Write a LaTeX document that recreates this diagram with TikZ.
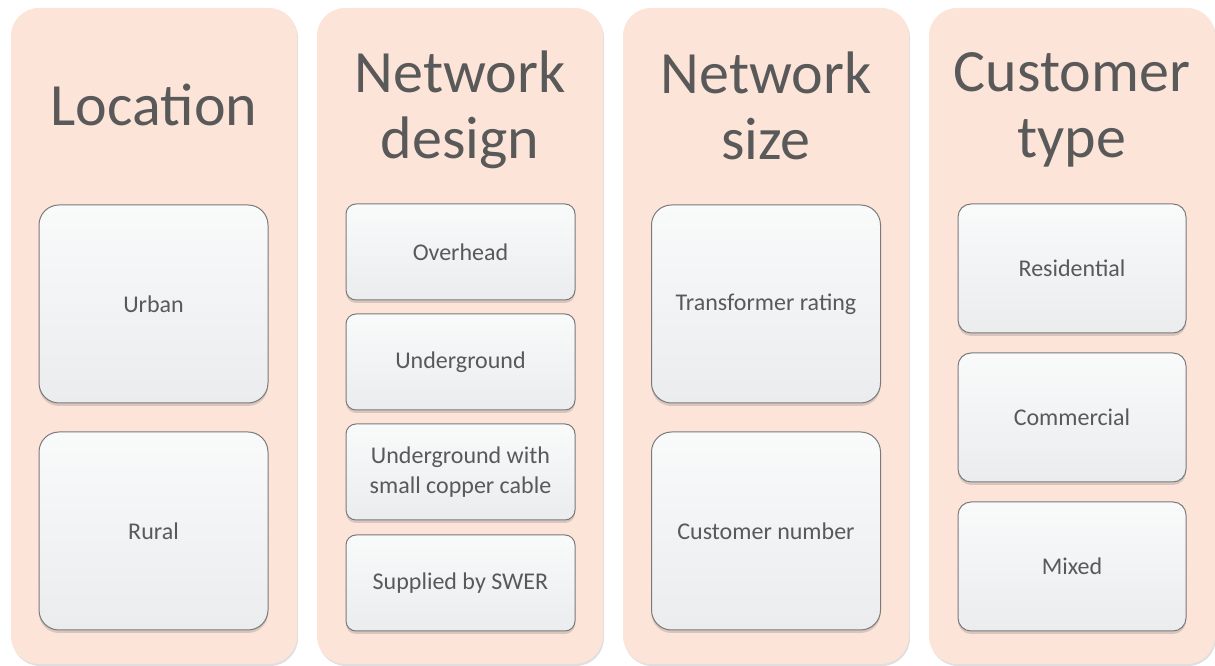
\documentclass[tikz,border=0pt]{standalone}
\usepackage{fontspec}
\setmainfont{Carlito}
\usetikzlibrary{shadows}
\definecolor{peach}{HTML}{FDE4D9}
\definecolor{txt}{HTML}{595959}
\definecolor{boxtop}{HTML}{F9FAFA}
\definecolor{boxbot}{HTML}{EBECEE}
\definecolor{edge}{HTML}{7A7A7A}
\begin{document}
\begin{tikzpicture}[x=1pt,y=1pt,
  col/.style={fill=peach, draw=none, rounded corners=28pt, inner sep=0pt,
    minimum width=286pt, minimum height=656pt,
    drop shadow={opacity=0.25, shadow xshift=1pt, shadow yshift=-2pt}},
  title/.style={text=txt, align=center, font=\fontsize{60}{66}\selectfont, inner sep=0pt},
  item/.style={top color=boxtop, bottom color=boxbot, draw=edge, line width=1pt,
    text=txt, align=center, font=\fontsize{24}{30}\selectfont, inner sep=0pt,
    drop shadow={opacity=0.3, shadow xshift=0pt, shadow yshift=-3pt}},
  big/.style={item, minimum width=229pt, minimum height=198pt, rounded corners=20pt},
  small/.style={item, minimum width=229pt, minimum height=96pt, rounded corners=10pt},
  mid/.style={item, minimum width=228pt, minimum height=129pt, rounded corners=13pt}]
\useasboundingbox (0,0) rectangle (1215,666);
% columns
\node[col] (c1) at (154,330) {};
\node[col] (c2) at (460,330) {};
\node[col] (c3) at (766,330) {};
\node[col] (c4) at (1072,330) {};
% titles
\node[title] (t1) at (154,561) {Location};
\node[title] (t2) at (460,556) {Network\\design};
\node[title] (t3) at (766,560) {Network\\size};
\node[title] (t4) at (1072,556) {Customer\\type};
% column 1
\node[big] (urban) at (153.5,362) {Urban};
\node[big] (rural) at (153.5,135) {Rural};
% column 2
\node[small] (over) at (460.5,414) {Overhead};
\node[small] (under) at (460.5,304) {Underground};
\node[small] (copper) at (460.5,194) {Underground with\\small copper cable};
\node[small] (swer) at (460.5,83) {Supplied by SWER};
% column 3
\node[big] (trans) at (766,362) {Transformer rating};
\node[big] (cust) at (766,135) {Customer number};
% column 4
\node[mid] (res) at (1072,397.5) {Residential};
\node[mid] (com) at (1072,248.5) {Commercial};
\node[mid] (mix) at (1072,99.5) {Mixed};
\end{tikzpicture}
\end{document}
